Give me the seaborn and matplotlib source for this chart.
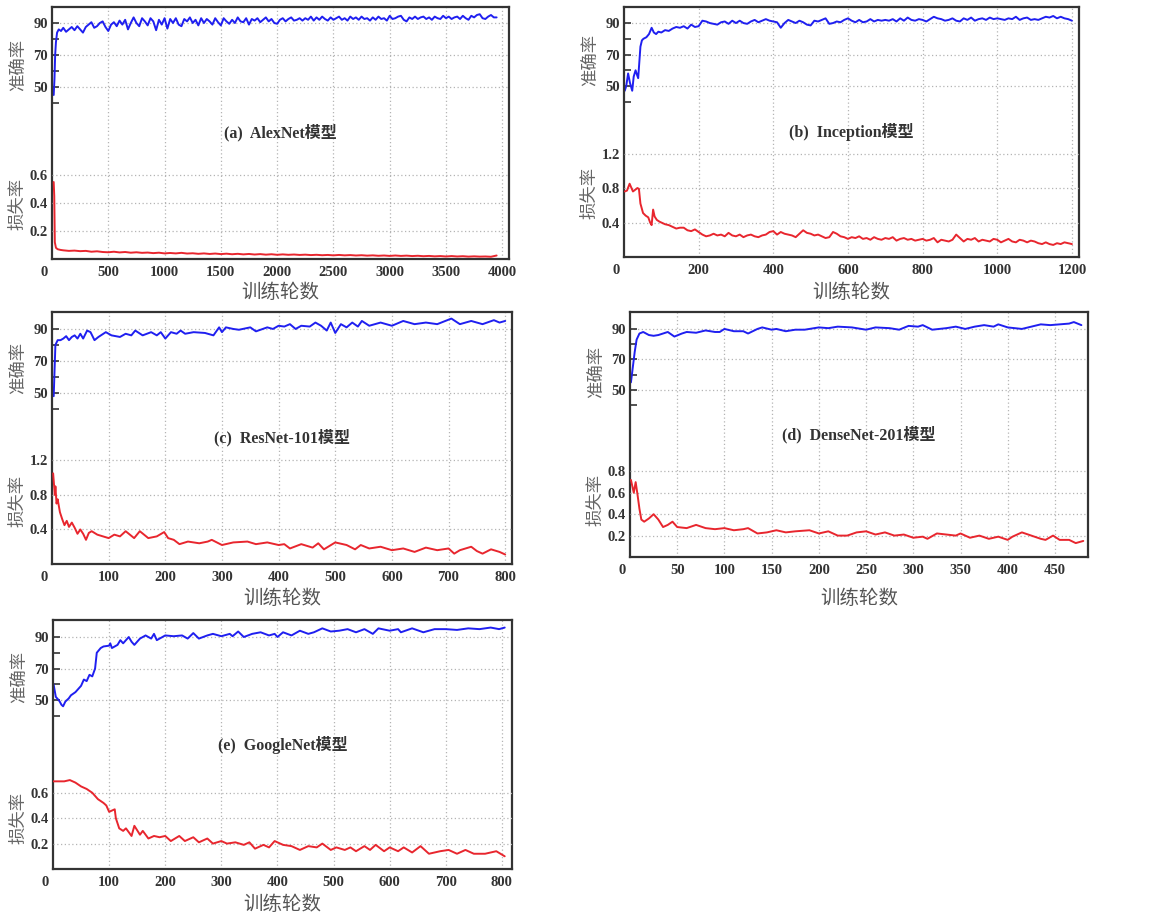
import numpy as np
import pandas as pd
import matplotlib
matplotlib.use('Agg')
import matplotlib.pyplot as plt
import seaborn as sns
from matplotlib.ticker import FixedLocator

sns.set_style('white')
plt.rcParams['font.family'] = ['Liberation Serif', 'Noto Sans CJK SC']
plt.rcParams['axes.unicode_minus'] = False

# ---------------- data ----------------
# (a) AlexNet
alex_acc_ep = [15, 22, 28, 35, 45, 60, 80] + list(range(100, 3951, 25))
alex_acc = [45, 55, 70, 78, 84, 86, 85,
            87, 84.5, 86, 87.5, 85.5, 88, 86, 84, 87.5, 89,
            90.5, 87, 88, 90, 91, 87.5, 85, 89, 90.5, 88,
            91.5, 89, 92, 86, 90, 93.5, 90, 88, 93, 91,
            88.5, 93, 91, 85.5, 92, 89, 93, 86.5, 92.5, 90,
            93, 89, 88, 92.5, 91, 93.5, 90, 92, 88.5, 93,
            90, 92.5, 91, 89, 93, 90.5, 88.5, 93, 91, 89.5,
            92, 90, 93.5, 91, 90.5, 93, 89, 92.5, 91.5, 93,
            90.5, 92, 93.5, 91, 92.5, 90, 89.5, 92, 93, 91,
            92.5, 93.5, 91.5, 92, 93, 91.5, 93, 92, 94, 91.5,
            93.5, 92, 94, 92.5, 91.5, 93.5, 92, 93, 94, 92,
            93, 91.5, 94, 92.5, 93.5, 92, 94, 92.5, 93, 91.5,
            93.5, 92, 94, 92.5, 93, 91.5, 94.5, 92.5, 93, 94,
            94.5, 92, 91, 93.5, 92.5, 94, 92.5, 93.5, 94, 92.5,
            93.5, 92, 94, 93, 92.5, 94.5, 93, 94, 92.5, 93.5,
            94, 92.5, 94.5, 93, 92, 94.5, 93.5, 95, 95.5, 93,
            92.5, 94, 95, 93.5, 93.5]
alex_loss_ep = [15, 20, 25, 35, 50, 75] + list(range(100, 3951, 50))
alex_loss = [0.55, 0.45, 0.12, 0.08, 0.07, 0.065,
             0.062, 0.058, 0.06, 0.056, 0.058, 0.052, 0.055, 0.05, 0.048,
             0.052, 0.047, 0.05, 0.045, 0.048, 0.044, 0.046, 0.042, 0.045, 0.04,
             0.043, 0.04, 0.044, 0.039, 0.041, 0.037, 0.04, 0.036, 0.039, 0.035,
             0.038, 0.034, 0.037, 0.033, 0.036, 0.032, 0.035, 0.031, 0.034, 0.03,
             0.033, 0.03, 0.032, 0.029, 0.031, 0.028, 0.03, 0.027, 0.029, 0.026,
             0.029, 0.026, 0.028, 0.025, 0.027, 0.024, 0.026, 0.023, 0.025, 0.022,
             0.025, 0.022, 0.024, 0.021, 0.023, 0.02, 0.022, 0.019, 0.021, 0.018,
             0.021, 0.018, 0.02, 0.017, 0.019, 0.017, 0.018, 0.016, 0.025]

# (b) Inception
incep_acc_ep = [2, 6, 11, 16, 22, 26, 31, 35, 38, 42, 44, 48, 52, 60, 67, 74, 80, 86, 92] + list(range(100, 1201, 10))
incep_acc = [47, 50, 58, 52, 47, 56, 60, 57, 55, 68, 75, 79, 80, 81, 83, 87, 84, 83, 84.5,
             84, 85.5, 85, 86.5, 87.5, 87, 88, 86.5, 89, 87.5,
             88, 91.5, 91, 90, 89.5, 89, 90.5, 91, 89.5, 91.5,
             90, 91.5, 90, 89.5, 91, 92, 90.5, 91.5, 92.5, 91.5,
             91, 90.5, 87, 90, 92, 91, 90, 91.5, 90.5, 89,
             88.5, 91.5, 91, 92, 93, 89.5, 90, 91, 90.5, 92,
             93, 91.5, 90.5, 92, 90.5, 91, 92.5, 91, 92, 91.5,
             92, 91.5, 92.5, 91, 93, 91.5, 93.5, 92, 91.5, 92.5,
             92, 91, 92.5, 94, 93, 92.5, 91.5, 92, 93, 91.5,
             91, 93, 92, 93.5, 91.5, 92.5, 93, 92, 93.5, 92.5,
             93, 92.5, 92, 93, 92.5, 94, 92, 93, 93.5, 92,
             92.5, 92, 93, 94, 93.5, 94.5, 93, 94, 93, 92.5,
             91.5]
incep_loss_ep = [2, 8, 15, 20, 24, 30, 36, 40, 44, 51, 58, 65, 70, 74, 78, 82, 88, 95] + list(range(100, 1201, 10))
incep_loss = [0.76, 0.77, 0.85, 0.8, 0.76, 0.78, 0.8, 0.79, 0.62, 0.51, 0.48, 0.46, 0.4, 0.37, 0.55, 0.47, 0.43, 0.41,
              0.4, 0.38, 0.37, 0.35, 0.33, 0.34, 0.34, 0.31, 0.3, 0.32,
              0.29, 0.26, 0.24, 0.25, 0.27, 0.25, 0.26, 0.24, 0.28, 0.25,
              0.24, 0.26, 0.23, 0.25, 0.26, 0.24, 0.23, 0.25, 0.26, 0.29,
              0.3, 0.26, 0.29, 0.27, 0.26, 0.25, 0.23, 0.27, 0.31, 0.28,
              0.27, 0.25, 0.26, 0.24, 0.22, 0.23, 0.29, 0.27, 0.24, 0.23,
              0.21, 0.23, 0.22, 0.24, 0.21, 0.22, 0.2, 0.23, 0.21, 0.2,
              0.22, 0.21, 0.23, 0.19, 0.21, 0.22, 0.2, 0.21, 0.19, 0.2,
              0.21, 0.19, 0.2, 0.22, 0.17, 0.2, 0.19, 0.18, 0.2, 0.26,
              0.22, 0.18, 0.21, 0.2, 0.22, 0.18, 0.2, 0.19, 0.18, 0.21,
              0.2, 0.17, 0.19, 0.21, 0.18, 0.17, 0.2, 0.19, 0.17, 0.19,
              0.18, 0.16, 0.15, 0.17, 0.15, 0.14, 0.16, 0.15, 0.17, 0.16,
              0.15]

# (c) ResNet-101
res_acc_ep = [3, 6, 10, 15, 20, 25, 30, 35, 40, 45, 50, 55, 62, 68, 75, 82, 95, 105, 120, 130,
              140, 147, 160, 175, 185, 192, 200, 210, 220, 227, 235, 250, 270, 285, 295,
              300, 307, 320, 330, 350, 360, 380, 390, 400, 410, 420, 430, 440, 455, 465,
              475, 485, 492, 500, 510, 520, 530, 540, 547, 560, 580, 600, 620, 640, 660,
              680, 705, 720, 740, 760, 780, 790, 800]
res_acc = [48, 80, 83, 83, 84, 85.5, 83, 85, 86, 84, 87, 84, 89, 88, 83, 85, 88, 86, 85, 87,
           86, 89, 86, 88, 86, 88, 84, 88, 87, 89, 87, 88, 87.5, 86, 91,
           88, 91, 90, 89.5, 91, 88.5, 91, 90, 92, 91.5, 93, 90, 92, 91.5, 94,
           92, 89, 94, 87.5, 93, 91, 94, 91.5, 95, 92, 94, 92, 95, 93, 94,
           93, 96.5, 93, 95, 93, 95.5, 94, 95]
res_loss_ep = [2, 5, 6, 8, 10, 14, 18, 22, 26, 30, 35, 40, 45, 50, 55, 60, 65, 70, 80, 90,
               100, 110, 120, 130, 145, 155, 170, 185, 198, 205, 215, 225, 240, 260, 275,
               282, 300, 320, 345, 360, 380, 400, 410, 420, 440, 460, 470, 480, 500, 520,
               535, 545, 560, 580, 600, 620, 640, 660, 680, 700, 710, 720, 740, 750, 760,
               775, 790, 800]
res_loss = [1.05, 0.8, 0.9, 0.7, 0.75, 0.6, 0.52, 0.45, 0.5, 0.43, 0.48, 0.42, 0.35, 0.4, 0.35,
            0.28, 0.36, 0.38, 0.34, 0.32, 0.3, 0.34, 0.32, 0.38, 0.3, 0.38, 0.3, 0.32, 0.37, 0.3,
            0.28, 0.23, 0.26, 0.24, 0.26, 0.28, 0.22, 0.25, 0.26, 0.23, 0.25, 0.22, 0.23, 0.18, 0.23,
            0.19, 0.24, 0.17, 0.25, 0.22, 0.17, 0.22, 0.18, 0.2, 0.16, 0.18, 0.14, 0.19, 0.16, 0.18,
            0.12, 0.16, 0.2, 0.15, 0.12, 0.17, 0.14, 0.11]

# (d) DenseNet-201
dense_acc_ep = [1, 3, 5, 7, 10, 14, 20, 25, 30, 40, 47, 55, 60, 70, 80, 90, 95, 100, 110, 120,
                125, 135, 140, 150, 155, 165, 175, 185, 200, 210, 220, 235, 250, 260, 275,
                285, 295, 305, 310, 320, 335, 345, 355, 365, 375, 385, 390, 400, 415, 425,
                435, 445, 455, 465, 470, 478]
dense_acc = [55, 65, 75, 83, 87, 88, 86, 85.5, 86, 88, 85, 87, 88, 87.5, 89, 88, 88, 90, 88.5, 88.5,
             87, 90, 91, 89.5, 90, 88.5, 89.5, 89.5, 91, 90.5, 91.5, 91, 89.5, 91, 90.5,
             89.5, 92, 91.5, 92.5, 89.5, 90.5, 91.5, 90, 91.5, 92.5, 91.5, 93, 91, 90, 91.5,
             93, 92.5, 93, 93.5, 94.5, 92.5]
dense_loss_ep = [1, 4, 6, 8, 10, 12, 15, 20, 25, 30, 35, 40, 45, 50, 60, 70, 80, 90, 100, 110,
                 120, 125, 135, 145, 155, 165, 175, 190, 200, 210, 220, 230, 240, 250, 260,
                 270, 280, 290, 300, 310, 315, 325, 335, 345, 350, 360, 370, 380, 390, 400,
                 405, 415, 425, 435, 440, 448, 455, 465, 472, 480]
dense_loss = [0.72, 0.6, 0.7, 0.58, 0.45, 0.35, 0.33, 0.36, 0.4, 0.35, 0.28, 0.3, 0.33, 0.28, 0.27,
              0.3, 0.27, 0.26, 0.27, 0.25, 0.26, 0.27, 0.22, 0.23, 0.25, 0.23, 0.24, 0.25, 0.22, 0.24,
              0.2, 0.2, 0.23, 0.24, 0.21, 0.23, 0.2, 0.21, 0.18, 0.19, 0.17, 0.22, 0.21, 0.2, 0.22,
              0.18, 0.2, 0.17, 0.19, 0.16, 0.19, 0.23, 0.2, 0.17, 0.16, 0.2, 0.16, 0.16, 0.13, 0.15]

# (e) GoogleNet
goog_acc_ep = [1, 5, 10, 12, 15, 18, 22, 28, 32, 40, 45, 50, 55, 60, 65, 70, 75, 78, 85, 90,
               100, 102, 105, 115, 120, 125, 135, 140, 145, 155, 165, 175, 180, 185, 200,
               215, 230, 240, 250, 260, 275, 285, 300, 315, 320, 330, 340, 355, 370, 385,
               395, 400, 410, 425, 440, 455, 465, 480, 495, 510, 525, 540, 555, 570, 580,
               600, 615, 620, 640, 660, 680, 700, 720, 740, 760, 780, 795, 805]
goog_acc = [60, 52, 50, 49, 47, 46, 49, 51, 53, 55, 57, 59, 63, 62, 66, 65, 70, 80, 83, 84,
            84.5, 86, 83, 85, 88, 86, 90, 87, 85, 89, 91, 89, 92, 88, 91,
            90.5, 91, 89, 92.5, 89, 91, 92, 90.5, 92, 90.5, 93.5, 90, 92, 93, 91,
            92, 90, 93, 91, 94, 92, 93, 95.5, 93.5, 94, 95, 93, 95, 92, 95.5,
            94, 95, 93, 95.5, 93, 95, 95, 94.5, 95.5, 95, 96, 95, 96]
goog_loss_ep = [1, 20, 30, 40, 50, 60, 70, 80, 90, 95, 100, 110, 112, 118, 125, 130, 140, 145, 155, 160,
                170, 180, 190, 200, 210, 225, 235, 250, 260, 275, 285, 300, 310, 325, 340,
                350, 360, 375, 385, 395, 410, 425, 440, 455, 470, 480, 495, 505, 520, 530,
                540, 555, 565, 575, 590, 600, 615, 625, 640, 655, 670, 690, 705, 720, 735,
                750, 770, 790, 805]
goog_loss = [0.69, 0.69, 0.7, 0.68, 0.65, 0.63, 0.6, 0.55, 0.52, 0.5, 0.45, 0.47, 0.4, 0.32, 0.3,
             0.32, 0.26, 0.34, 0.27, 0.3, 0.24, 0.26, 0.25, 0.26, 0.22, 0.26, 0.22, 0.25, 0.21, 0.24,
             0.2, 0.22, 0.2, 0.21, 0.19, 0.21, 0.16, 0.19, 0.17, 0.22, 0.19, 0.18, 0.15, 0.18, 0.17,
             0.2, 0.15, 0.17, 0.15, 0.17, 0.14, 0.18, 0.15, 0.19, 0.14, 0.17, 0.14, 0.17, 0.13, 0.18,
             0.12, 0.14, 0.15, 0.12, 0.15, 0.12, 0.12, 0.14, 0.1]

titles = ['(a)  AlexNet模型', '(b)  Inception模型', '(c)  ResNet-101模型',
          '(d)  DenseNet-201模型', '(e)  GoogleNet模型']
acc_ticks = [50, 70, 90]
loss_tick_sets = [[0.2, 0.4, 0.6], [0.4, 0.8, 1.2], [0.4, 0.8, 1.2],
                  [0.2, 0.4, 0.6, 0.8], [0.2, 0.4, 0.6]]
x_tick_sets = [list(range(500, 4001, 500)), list(range(200, 1201, 200)),
               list(range(100, 801, 100)), list(range(50, 451, 50)),
               list(range(100, 801, 100))]

# ---------------- layout / style ----------------
W, H = 1149, 917
BLUE = '#1f1ff0'
RED = '#e8262e'
GRID = '#b4b4b4'

def rect(l, r, t, b):
    return [l / W, (H - b) / H, (r - l) / W, (b - t) / H]

layout = [
    dict(rect=rect(52, 509, 7, 259), xlim=(0, 4060), acc_ylim=(-57.5, 100), loss_ylim=(0, 1.8),
         acc_lab=0.77, loss_lab=0.218, xlab=34),
    dict(rect=rect(624, 1079, 7, 257), xlim=(0, 1219), acc_ylim=(-58.6, 100.2), loss_ylim=(0, 2.9),
         acc_lab=0.79, loss_lab=0.256, xlab=36),
    dict(rect=rect(52, 512, 312, 564), xlim=(0, 812), acc_ylim=(-56.9, 100.6), loss_ylim=(0, 2.92),
         acc_lab=0.78, loss_lab=0.25, xlab=34),
    dict(rect=rect(630, 1088, 312, 557), xlim=(0, 485), acc_ylim=(-59.5, 101.1), loss_ylim=(0, 2.29),
         acc_lab=0.755, loss_lab=0.233, xlab=41),
    dict(rect=rect(53, 512, 620, 869), xlim=(0, 818), acc_ylim=(-57.3, 100.8), loss_ylim=(0, 1.96),
         acc_lab=0.77, loss_lab=0.205, xlab=36),
]

series = [(alex_acc_ep, alex_acc, alex_loss_ep, alex_loss),
          (incep_acc_ep, incep_acc, incep_loss_ep, incep_loss),
          (res_acc_ep, res_acc, res_loss_ep, res_loss),
          (dense_acc_ep, dense_acc, dense_loss_ep, dense_loss),
          (goog_acc_ep, goog_acc, goog_loss_ep, goog_loss)]

fig = plt.figure(figsize=(W / 100, H / 100), dpi=100)
fig.patch.set_facecolor('white')

tick_kw = dict(fontsize=10.5, fontweight='bold', color='#333333', family=['Liberation Serif'])
cjk = ['Noto Sans CJK SC']

for i, (lay, (aep, acc, lep, loss)) in enumerate(zip(layout, series)):
    ax = fig.add_axes(lay['rect'])
    ax2 = ax.twinx()
    ax2.set_position(lay['rect'])

    df_acc = pd.DataFrame({'epoch': aep, 'value': acc})
    df_loss = pd.DataFrame({'epoch': lep, 'value': loss})
    sns.lineplot(data=df_acc, x='epoch', y='value', ax=ax, color=BLUE, linewidth=1.4)
    sns.lineplot(data=df_loss, x='epoch', y='value', ax=ax2, color=RED, linewidth=1.4)

    ax.set_xlim(*lay['xlim'])
    ax.set_ylim(*lay['acc_ylim'])
    ax2.set_ylim(*lay['loss_ylim'])
    ax.set_xlabel('')
    ax.set_ylabel('')
    ax2.set_ylabel('')

    # x ticks
    ax.set_xticks(x_tick_sets[i])
    ax.set_xticklabels([str(v) for v in x_tick_sets[i]], **tick_kw)
    ax.tick_params(axis='x', length=0, pad=5)
    ax.annotate('0', xy=(0, 0), xycoords='axes fraction', xytext=(-8, -7),
                textcoords='offset pixels', ha='center', va='top', **tick_kw)

    # accuracy ticks (left)
    ax.set_yticks(acc_ticks)
    ax.set_yticklabels([str(v) for v in acc_ticks], **tick_kw)
    ax.yaxis.set_minor_locator(FixedLocator([40, 60, 80]))
    ax.tick_params(axis='y', which='both', direction='in', length=5, width=1.2,
                   color='#333333', pad=3, left=True, right=False)

    # loss ticks (also on the left)
    ax2.yaxis.tick_left()
    ax2.set_yticks(loss_tick_sets[i])
    ax2.set_yticklabels([f'{v:.1f}' for v in loss_tick_sets[i]], **tick_kw)
    ax2.tick_params(axis='y', direction='in', length=0, pad=3, left=True, right=False,
                    labelleft=True, labelright=False)

    # grids
    ax.grid(True, which='major', axis='both', linestyle=(0, (1, 2)), color=GRID, linewidth=0.9)
    ax2.grid(True, which='major', axis='y', linestyle=(0, (1, 2)), color=GRID, linewidth=0.9)
    ax2.grid(False, axis='x')

    for s in ax.spines.values():
        s.set_color('#333333')
        s.set_linewidth(1.6)
        s.set_visible(True)
    for s in ax2.spines.values():
        s.set_visible(False)

    # axis labels
    ax.annotate('准确率', xy=(0, lay['acc_lab']), xycoords='axes fraction', xytext=(-33, 0),
                textcoords='offset pixels', ha='center', va='center', rotation=90,
                fontsize=12.5, color='#666666', family=cjk)
    ax.annotate('损失率', xy=(0, lay['loss_lab']), xycoords='axes fraction', xytext=(-35, 0),
                textcoords='offset pixels', ha='center', va='center', rotation=90,
                fontsize=12.5, color='#666666', family=cjk)
    ax.annotate('训练轮数', xy=(0.5, 0), xycoords='axes fraction', xytext=(0, -lay['xlab']),
                textcoords='offset pixels', ha='center', va='center',
                fontsize=14, color='#555555', family=cjk)

    # panel title
    ax2.text(0.5, 0.5, titles[i], transform=ax2.transAxes, ha='center', va='center',
             fontsize=11.5, fontweight='bold', color='#333333',
             family=['Liberation Serif', 'Noto Sans CJK SC'])

fig.savefig('out.png', dpi=100, facecolor='white')
